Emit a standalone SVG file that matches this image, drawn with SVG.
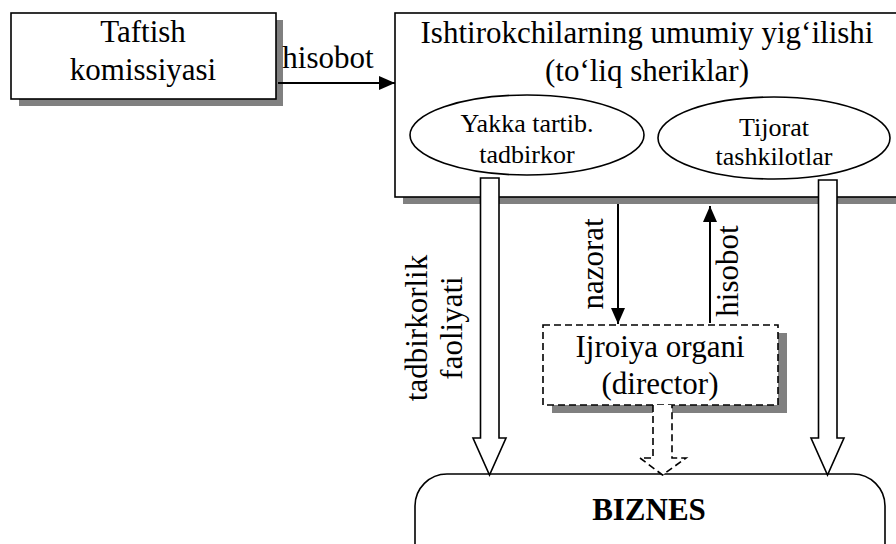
<svg xmlns="http://www.w3.org/2000/svg" width="896" height="544" viewBox="0 0 896 544">
<defs>
<style>
.t{font-family:"Times New Roman","Liberation Serif",Tinos,"DejaVu Serif",serif;font-size:31px;fill:#000}
.s{font-size:26px}
.b{font-weight:bold}
.box{fill:#fff;stroke:#000;stroke-width:1.6}
.sh{fill:#808080;stroke:none}
.ln{stroke:#000;stroke-width:2;fill:none}
.hol{fill:#fff;stroke:#000;stroke-width:1.6}
.dash{stroke-dasharray:7 4}
</style>
<marker id="ah" viewBox="0 0 16 14" refX="16" refY="7" markerWidth="16" markerHeight="14" markerUnits="userSpaceOnUse" orient="auto">
<path d="M0,0 L16,7 L0,14 Z" fill="#000"/>
</marker>
</defs>
<rect width="896" height="544" fill="#fff"/>
<g id="taftish">
<rect class="sh" x="19" y="20" width="264" height="86"/>
<rect class="box" x="11" y="13" width="265" height="86"/>
<text class="t" font-family="Liberation Serif, serif" x="143" y="42" text-anchor="middle">Taftish</text>
<text class="t" font-family="Liberation Serif, serif" x="143" y="80" text-anchor="middle">komissiyasi</text>
</g>
<g id="umumiy">
<rect class="sh" x="403" y="20" width="500" height="184"/>
<rect class="box" x="395" y="13" width="510" height="184"/>
<text class="t" x="647" y="43" text-anchor="middle">Ishtirokchilarning umumiy yig‘ilishi</text>
<text class="t" x="647" y="81" text-anchor="middle">(to‘liq sheriklar)</text>
</g>
<g id="yakka">
<ellipse class="box" cx="527" cy="135" rx="117" ry="40"/>
<text class="t s" x="527" y="132" text-anchor="middle">Yakka tartib.</text>
<text class="t s" x="527" y="163" text-anchor="middle">tadbirkor</text>
</g>
<g id="tijorat">
<ellipse class="box" cx="774" cy="138" rx="116" ry="41"/>
<text class="t s" x="774" y="136" text-anchor="middle">Tijorat</text>
<text class="t s" x="774" y="165" text-anchor="middle">tashkilotlar</text>
</g>
<g id="ijroiya">
<rect class="sh" x="552" y="333" width="235" height="80"/>
<rect class="box dash" x="543" y="325" width="235" height="80"/>
<text class="t" x="660" y="357" text-anchor="middle">Ijroiya organi</text>
<text class="t" x="660" y="394" text-anchor="middle">(director)</text>
</g>
<g id="biznes">
<rect class="box" x="415" y="474" width="470" height="110" rx="32" ry="32"/>
<text class="t b" x="649" y="520" text-anchor="middle">BIZNES</text>
</g>
<g id="connectors">
<line class="ln" x1="278" y1="83" x2="395" y2="83" marker-end="url(#ah)"/>
<text class="t" x="328" y="68" text-anchor="middle">hisobot</text>
<line class="ln" x1="618" y1="204" x2="618" y2="324" marker-end="url(#ah)"/>
<text class="t" transform="translate(603,264) rotate(-90)" text-anchor="middle">nazorat</text>
<line class="ln" x1="710" y1="323" x2="710" y2="206" marker-end="url(#ah)"/>
<text class="t" transform="translate(738,271) rotate(-90)" text-anchor="middle">hisobot</text>
<path class="hol" d="M480.5,178 L499,178 L499,438 L506,438 L489.5,475 L473,438 L480.5,438 Z"/>
<path class="hol" d="M818.5,180 L837,180 L837,438 L844,438 L827.5,475 L811,438 L818.5,438 Z"/>
<path class="hol dash" d="M653,405 L653,458 L640,458 L662.5,475 L686,458 L672,458 L672,405"/>
<text class="t" transform="translate(427,328) rotate(-90)" text-anchor="middle">tadbirkorlik</text>
<text class="t" transform="translate(462,328) rotate(-90)" text-anchor="middle">faoliyati</text>
</g>
</svg>
